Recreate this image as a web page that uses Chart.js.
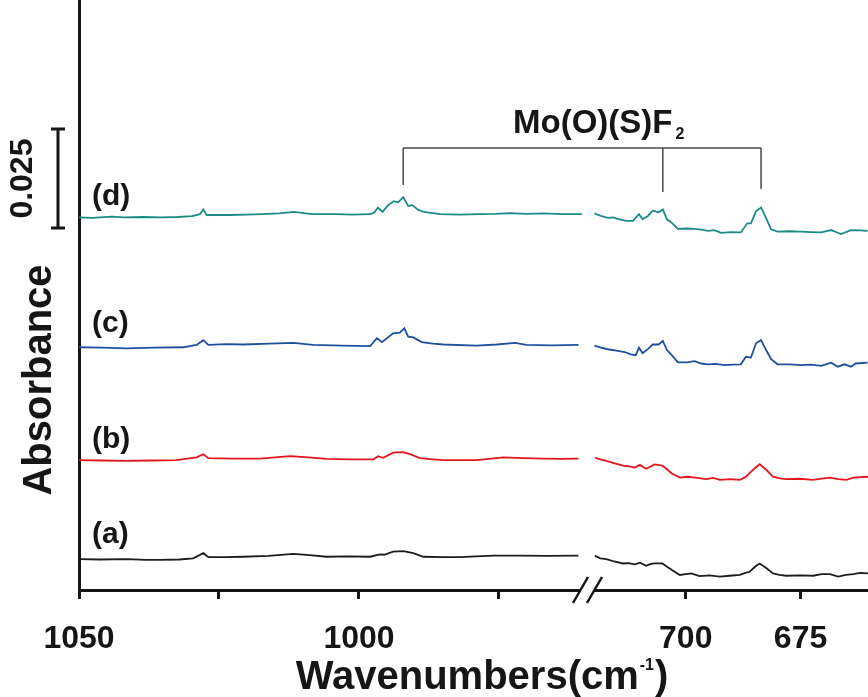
<!DOCTYPE html>
<html>
<head>
<meta charset="utf-8">
<script src="https://cdn.jsdelivr.net/npm/chart.js@4.4.0/dist/chart.umd.min.js"></script>
<style>
  html, body { margin: 0; padding: 0; background: #fff; }
</style>
</head>
<body>
<canvas id="myChart" width="868" height="697"></canvas>
<script>
const ctx = document.getElementById('myChart').getContext('2d');
const FONT = "'Liberation Sans', Arial, sans-serif";
const INK = '#161616';

// Broken wavenumber axis: high range on the left, low range on the right
const X_HIGH_MIN = 959.1, X_HIGH_MAX = 1050;
const X_LOW_MIN = 660.3, X_LOW_MAX = 721.3;
const Y_MIN = 0, Y_MAX = 0.149;

const highTicks = [1050, 1025, 1000, 975];
const highLabels = [1050, 1000];
const lowTicks = [700, 675];
const lowLabels = [700, 675];

const seriesLabels = ['(a)', '(b)', '(c)', '(d)'];
const seriesColors = ['#1c1c1c', '#e3161d', '#1f4f9f', '#1a8b86'];

// [wavenumber cm-1, absorbance]
const highA = [[1050.0,0.0078],[1046.3,0.0077],[1041.5,0.0078],[1038.0,0.0076],[1035.5,0.0076],[1032.1,0.0077],[1029.6,0.0080],[1027.8,0.0093],[1026.9,0.0083],[1024.0,0.0083],[1020.7,0.0084],[1016.2,0.0086],[1011.7,0.0091],[1008.8,0.0088],[1005.8,0.0084],[1002.0,0.0085],[998.0,0.0084],[996.3,0.0090],[995.5,0.0089],[993.9,0.0097],[992.1,0.0098],[990.3,0.0093],[988.5,0.0084],[985.2,0.0083],[982.0,0.0083],[979.1,0.0085],[976.0,0.0087],[971.4,0.0087],[966.3,0.0086],[960.8,0.0087]];
const lowA = [[719.8,0.0086],[718.6,0.0080],[717.3,0.0078],[715.6,0.0072],[713.7,0.0067],[712.4,0.0068],[711.1,0.0065],[710.0,0.0069],[708.6,0.0061],[707.6,0.0066],[706.8,0.0067],[705.1,0.0067],[704.0,0.0058],[703.1,0.0051],[701.3,0.0038],[700.0,0.0040],[698.8,0.0042],[697.0,0.0035],[694.8,0.0037],[692.6,0.0034],[690.4,0.0036],[688.2,0.0038],[687.0,0.0043],[686.1,0.0046],[684.8,0.0060],[683.9,0.0067],[682.4,0.0055],[681.0,0.0042],[679.6,0.0038],[678.1,0.0036],[675.0,0.0037],[672.3,0.0036],[670.4,0.0040],[668.6,0.0040],[666.8,0.0034],[665.1,0.0038],[663.5,0.0040],[662.0,0.0043],[660.3,0.0042]];

const highB = [[1050.0,0.0328],[1046.0,0.0327],[1041.5,0.0326],[1037.2,0.0327],[1032.6,0.0328],[1029.0,0.0335],[1027.8,0.0343],[1026.9,0.0333],[1022.4,0.0332],[1017.7,0.0332],[1012.3,0.0338],[1009.0,0.0335],[1005.8,0.0331],[1001.5,0.0330],[997.4,0.0330],[996.6,0.0338],[995.7,0.0334],[993.9,0.0347],[992.1,0.0348],[990.9,0.0343],[989.1,0.0333],[986.8,0.0330],[984.9,0.0328],[979.0,0.0328],[974.2,0.0335],[970.6,0.0333],[967.1,0.0332],[963.9,0.0331],[960.8,0.0332]];
const lowB = [[719.8,0.0334],[718.6,0.0330],[717.3,0.0326],[715.5,0.0320],[713.7,0.0314],[712.3,0.0312],[711.1,0.0309],[710.0,0.0316],[708.6,0.0306],[706.8,0.0317],[705.1,0.0314],[704.1,0.0305],[703.1,0.0295],[701.3,0.0284],[699.6,0.0286],[698.0,0.0284],[695.5,0.0280],[694.0,0.0283],[692.6,0.0278],[690.3,0.0280],[688.2,0.0278],[687.0,0.0285],[686.1,0.0295],[684.9,0.0308],[683.9,0.0318],[682.4,0.0303],[681.0,0.0286],[679.5,0.0282],[678.1,0.0280],[675.2,0.0281],[672.3,0.0278],[670.4,0.0281],[668.6,0.0284],[666.8,0.0280],[665.0,0.0278],[663.5,0.0284],[660.3,0.0286]];

const highC = [[1050.0,0.0613],[1046.0,0.0612],[1041.5,0.0610],[1036.5,0.0612],[1031.4,0.0613],[1029.0,0.0619],[1027.8,0.0631],[1026.9,0.0619],[1023.8,0.0621],[1020.7,0.0620],[1016.0,0.0622],[1011.7,0.0624],[1008.2,0.0619],[1003.0,0.0617],[998.0,0.0616],[996.8,0.0636],[995.9,0.0626],[993.9,0.0648],[992.7,0.0650],[991.9,0.0661],[991.2,0.0640],[990.3,0.0638],[988.8,0.0626],[986.8,0.0622],[984.9,0.0620],[979.0,0.0617],[975.4,0.0620],[972.1,0.0624],[970.1,0.0619],[965.5,0.0618],[960.8,0.0619]];
const lowC = [[719.9,0.0617],[718.5,0.0612],[717.0,0.0608],[714.8,0.0604],[713.3,0.0601],[712.0,0.0595],[710.9,0.0593],[710.2,0.0612],[709.4,0.0598],[708.2,0.0609],[707.2,0.0620],[705.9,0.0620],[705.0,0.0629],[704.1,0.0606],[703.2,0.0595],[701.7,0.0575],[699.8,0.0575],[698.1,0.0578],[696.6,0.0572],[695.2,0.0570],[693.4,0.0571],[691.6,0.0568],[689.8,0.0569],[688.0,0.0570],[686.9,0.0589],[685.8,0.0587],[684.7,0.0623],[683.6,0.0631],[682.5,0.0606],[681.4,0.0583],[680.0,0.0570],[677.4,0.0570],[674.9,0.0568],[672.7,0.0569],[670.5,0.0566],[668.3,0.0574],[666.9,0.0564],[665.4,0.0570],[664.0,0.0564],[663.0,0.0572],[660.4,0.0574]];

const highD = [[1050.0,0.0941],[1047.6,0.0940],[1044.1,0.0943],[1041.9,0.0941],[1038.5,0.0942],[1035.2,0.0941],[1032.4,0.0942],[1029.8,0.0944],[1028.4,0.0949],[1027.8,0.0961],[1027.2,0.0947],[1023.2,0.0947],[1020.1,0.0948],[1017.3,0.0949],[1014.3,0.0951],[1011.6,0.0955],[1008.4,0.0949],[1004.1,0.0949],[1001.2,0.0948],[998.0,0.0949],[997.3,0.0953],[996.6,0.0966],[995.8,0.0955],[994.8,0.0972],[993.8,0.0982],[993.0,0.0979],[992.1,0.0992],[991.2,0.0970],[990.5,0.0972],[989.4,0.0960],[988.2,0.0954],[985.5,0.0949],[982.0,0.0948],[978.4,0.0949],[975.6,0.0950],[973.0,0.0952],[970.1,0.0950],[967.1,0.0951],[963.6,0.0949],[960.2,0.0949]];
const lowD = [[719.9,0.0951],[718.5,0.0945],[717.0,0.0940],[715.9,0.0941],[714.8,0.0937],[713.0,0.0932],[711.5,0.0932],[710.2,0.0949],[709.4,0.0937],[708.3,0.0944],[707.2,0.0958],[705.9,0.0954],[705.0,0.0961],[704.1,0.0936],[703.2,0.0929],[701.7,0.0912],[699.9,0.0913],[698.1,0.0912],[696.6,0.0910],[695.2,0.0907],[693.8,0.0909],[692.3,0.0902],[690.2,0.0904],[688.0,0.0903],[686.6,0.0926],[685.8,0.0926],[684.7,0.0957],[683.6,0.0966],[682.5,0.0939],[681.4,0.0911],[680.0,0.0905],[677.4,0.0906],[674.9,0.0905],[672.8,0.0904],[670.5,0.0903],[668.3,0.0909],[667.3,0.0904],[666.2,0.0899],[664.0,0.0909],[662.0,0.0908],[660.4,0.0907]];

const highSeries = [highA, highB, highC, highD];
const lowSeries = [lowA, lowB, lowC, lowD];

// Mo(O)(S)F2 band markers: [axis, wavenumber, absorbance at the bottom of the drop]
const bandMarks = [['xHigh', 992.1, 0.1023], ['xLow', 705.0, 0.1005], ['xLow', 683.6, 0.1013]];
const bandBarY = 0.1116;
const scaleBarBase = 0.0914;
const scaleBarSize = 0.025;
// where the (a)-(d) tags sit, in absorbance
const tagY = [0.0139, 0.0379, 0.0673, 0.0992];

function drawText(c, text, x, y, size, align) {
    c.font = `bold ${size}px ${FONT}`;
    c.textAlign = align || 'left';
    c.fillText(text, x, y);
}

const annotatePlugin = {
    id: 'annotate',
    afterDraw: (chart) => {
        const { ctx, scales, chartArea } = chart;
        const y = scales.y;
        const xh = scales.xHigh;
        ctx.save();

        // axis break
        const B = xh.right;
        const bot = chartArea.bottom;
        ctx.fillStyle = '#fff';
        ctx.fillRect(B - 7, bot - 4, 13, 9);
        ctx.strokeStyle = INK;
        ctx.lineWidth = 2.5;
        ctx.beginPath();
        ctx.moveTo(B - 15, bot + 13); ctx.lineTo(B, bot - 13);
        ctx.moveTo(B - 1, bot + 13); ctx.lineTo(B + 14, bot - 13);
        ctx.stroke();

        ctx.fillStyle = INK;
        ctx.textBaseline = 'middle';
        // series tags
        seriesLabels.forEach((t, i) => {
            drawText(ctx, t, chartArea.left + 13, y.getPixelForValue(tagY[i]), 30);
        });

        // scale bar
        const sbTop = y.getPixelForValue(scaleBarBase + scaleBarSize);
        const sbBot = y.getPixelForValue(scaleBarBase);
        ctx.lineWidth = 3;
        ctx.beginPath();
        ctx.moveTo(58, sbTop); ctx.lineTo(58, sbBot);
        ctx.moveTo(51, sbTop); ctx.lineTo(65, sbTop);
        ctx.moveTo(51, sbBot); ctx.lineTo(65, sbBot);
        ctx.stroke();
        ctx.save();
        ctx.translate(23, (sbTop + sbBot) / 2);
        ctx.rotate(-Math.PI / 2);
        drawText(ctx, '0.025', 0, 0, 32, 'center');
        ctx.restore();

        // y title
        ctx.save();
        ctx.translate(40, 380);
        ctx.rotate(-Math.PI / 2);
        drawText(ctx, 'Absorbance', 0, 0, 40, 'center');
        ctx.restore();

        // band bracket
        const barPx = y.getPixelForValue(bandBarY);
        const xs = bandMarks.map(m => scales[m[0]].getPixelForValue(m[1]));
        ctx.strokeStyle = '#4a4a4a';
        ctx.lineWidth = 1.5;
        ctx.beginPath();
        ctx.moveTo(xs[0], barPx); ctx.lineTo(xs[xs.length - 1], barPx);
        bandMarks.forEach((m, i) => {
            ctx.moveTo(xs[i], barPx);
            ctx.lineTo(xs[i], y.getPixelForValue(m[2]));
        });
        ctx.stroke();

        ctx.textBaseline = 'alphabetic';
        drawText(ctx, 'Mo(O)(S)F', 513, 133, 33);
        const moW = ctx.measureText('Mo(O)(S)F').width;
        drawText(ctx, '2', 513 + moW + 3, 139, 16);

        // x title with superscript
        const main = 'Wavenumbers(cm', sup = '-1', close = ')';
        ctx.font = `bold 40px ${FONT}`;
        const w1 = ctx.measureText(main).width;
        const w3 = ctx.measureText(close).width;
        ctx.font = `bold 16px ${FONT}`;
        const w2 = ctx.measureText(sup).width;
        let tx = 482 - (w1 + w2 + w3 + 2) / 2;
        drawText(ctx, main, tx, 689, 40);
        tx += w1 + 1;
        drawText(ctx, sup, tx, 670, 16);
        tx += w2 + 1;
        drawText(ctx, close, tx, 689, 40);

        ctx.restore();
    }
};

const datasets = [];
seriesLabels.forEach((name, i) => {
    datasets.push({ label: name, data: highSeries[i], xAxisID: 'xHigh', yAxisID: 'y',
        borderColor: seriesColors[i], borderWidth: 1.8, pointRadius: 0, tension: 0 });
    datasets.push({ label: name, data: lowSeries[i], xAxisID: 'xLow', yAxisID: 'y',
        borderColor: seriesColors[i], borderWidth: 1.8, pointRadius: 0, tension: 0 });
});

function xScale(min, max, ticks, labels, weight) {
    return {
        type: 'linear',
        position: 'bottom',
        stack: 'wn',
        stackWeight: weight,
        reverse: true,
        min: min,
        max: max,
        afterBuildTicks: (scale) => { scale.ticks = ticks.map(v => ({ value: v })); },
        afterFit: (scale) => {
            scale.height = 107;
            // no extra room for the edge labels, the plot runs to the canvas edge
            scale.paddingLeft = 0;
            scale.paddingRight = 0;
        },
        ticks: {
            autoSkip: false,
            maxRotation: 0,
            padding: 21,
            color: INK,
            font: { family: FONT, weight: 'bold', size: 32 },
            callback: (v) => labels.includes(v) ? String(v) : ''
        },
        grid: { display: true, drawOnChartArea: false, drawTicks: true, tickLength: 9, lineWidth: 3, color: INK },
        border: { display: true, width: 3, color: INK },
        title: { display: false }
    };
}

new Chart(ctx, {
    type: 'line',
    data: { datasets: datasets },
    plugins: [annotatePlugin],
    options: {
        responsive: false,
        animation: false,
        events: [],
        layout: { padding: 0 },
        plugins: { legend: { display: false }, tooltip: { enabled: false } },
        scales: {
            xHigh: xScale(X_HIGH_MIN, X_HIGH_MAX, highTicks, highLabels, 509),
            xLow: xScale(X_LOW_MIN, X_LOW_MAX, lowTicks, lowLabels, 280),
            y: {
                type: 'linear',
                position: 'left',
                min: Y_MIN,
                max: Y_MAX,
                afterFit: (scale) => { scale.width = 79; },
                ticks: { display: false },
                grid: { display: false },
                border: { display: true, width: 3, color: INK }
            }
        }
    }
});
</script>
</body>
</html>
